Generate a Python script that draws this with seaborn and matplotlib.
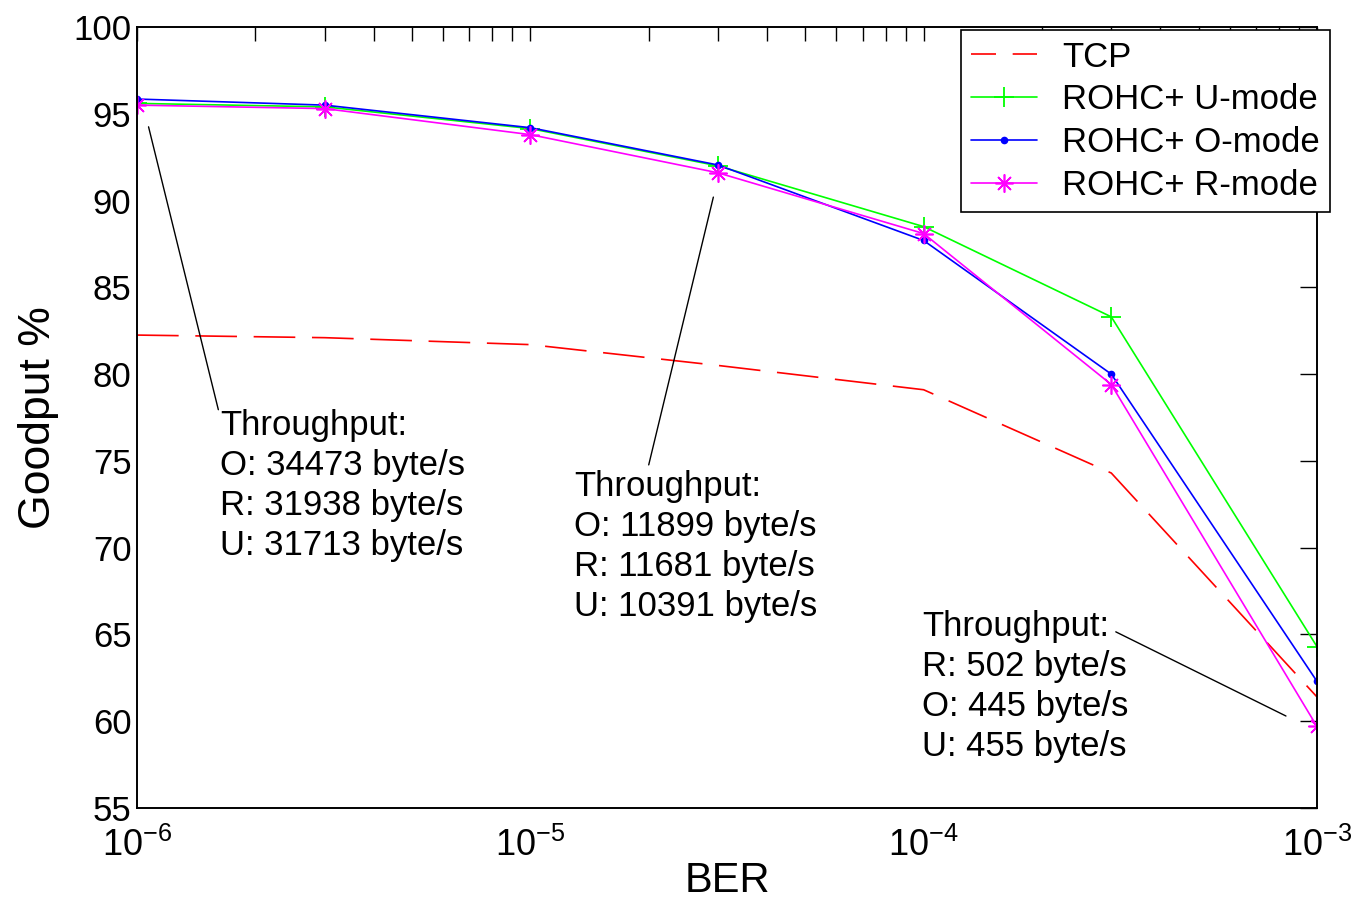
# Goodput vs BER - TCP et ROHC+ (modes U, O, R)
import numpy as np
import pandas as pd
import matplotlib
matplotlib.use("Agg")
import matplotlib.pyplot as plt
from matplotlib.lines import Line2D
import seaborn as sns

# Données
ber = [1e-6, 3e-6, 1e-5, 3e-5, 1e-4, 3e-4, 1e-3]
tcp = [82.25, 82.1, 81.7, 80.5, 79.1, 74.3, 61.4]
u_mode = [95.6, 95.4, 94.15, 92.0, 88.5, 83.3, 64.3]
o_mode = [95.85, 95.5, 94.2, 92.05, 87.7, 80.0, 62.3]
r_mode = [95.5, 95.3, 93.8, 91.6, 88.1, 79.4, 59.7]

# Textes des annotations
notes = [
    "Throughput:\nO: 34473 byte/s\nR: 31938 byte/s\nU: 31713 byte/s",
    "Throughput:\nO: 11899 byte/s\nR: 11681 byte/s\nU: 10391 byte/s",
    "Throughput:\nR: 502 byte/s\nO: 445 byte/s\nU: 455 byte/s",
]
note_pos = [(1.63e-6, 78.0), (1.29e-5, 74.5), (9.9e-5, 66.4)]
note_line_from = [(1.07e-6, 94.25), (2.92e-5, 90.2), (3.08e-4, 65.15)]
note_line_to = [(1.61e-6, 77.95), (2.0e-5, 74.77), (8.34e-4, 60.3)]

sns.set_style("white")
plt.rcParams['font.family'] = ['Liberation Sans', 'DejaVu Sans']
plt.rcParams['mathtext.fontset'] = 'custom'
plt.rcParams['mathtext.rm'] = 'Liberation Sans'
plt.rcParams['mathtext.it'] = 'Liberation Sans'
plt.rcParams['mathtext.bf'] = 'Liberation Sans'
for k in ['text.color', 'axes.labelcolor', 'xtick.color', 'ytick.color']:
    plt.rcParams[k] = 'black'

fig = plt.figure(figsize=(13.51, 9.1), dpi=100)
ax = fig.add_axes([0.1014, 0.1121, 0.8734, 0.8582])

sns.lineplot(x=ber, y=tcp, ax=ax, color="#ff0000", lw=1.2, legend=False)
sns.lineplot(x=ber, y=u_mode, ax=ax, color="#00ff00", lw=1.2, marker="+",
             markersize=14, markeredgewidth=1.3, markeredgecolor="#00ff00",
             legend=False)
sns.lineplot(x=ber, y=o_mode, ax=ax, color="#0000ff", lw=1.2, marker="o",
             markersize=5.5, markeredgewidth=0, markerfacecolor="#0000ff",
             legend=False)
sns.lineplot(x=ber, y=r_mode, ax=ax, color="#ff00ff", lw=1.2, marker=(8, 2, 0),
             markersize=13, markeredgewidth=1.2, markeredgecolor="#ff00ff",
             legend=False)

lines = ax.get_lines()
lines[0].set_dashes((25, 10))
labels = ["TCP", "ROHC+ U-mode", "ROHC+ O-mode", "ROHC+ R-mode"]
# poignée de légende TCP : deux tirets
tcp_handle = Line2D([], [], color="#ff0000", lw=1.2, dashes=(15, 10))
handles = [tcp_handle] + list(lines[1:4])

ax.set_xscale("log")
ax.set_xlim(1e-6, 1e-3)
ax.set_ylim(55, 100)
ax.set_yticks(np.arange(55, 101, 5))

# Annotations
for txt, pos, p0, p1 in zip(notes, note_pos, note_line_from, note_line_to):
    ax.annotate("", xy=p0, xytext=p1,
                arrowprops=dict(arrowstyle="-", color="black", lw=1.0,
                                shrinkA=0, shrinkB=0))
    ax.text(pos[0], pos[1], txt, fontsize=25, va="top", ha="left",
            linespacing=1.27)

ax.set_xlabel("BER", fontsize=30, labelpad=-2)
ax.set_ylabel("Goodput %", fontsize=32, labelpad=10)

ax.tick_params(axis="both", which="both", direction="in", top=True, right=True)
ax.tick_params(axis="y", which="major", length=12, width=1.0, labelsize=25, pad=4)
ax.tick_params(axis="x", which="major", length=10, width=1.0, labelsize=26, pad=14)
ax.tick_params(axis="x", which="minor", length=10, width=1.0)
for s in ax.spines.values():
    s.set_color("black")
    s.set_linewidth(1.4)

leg = ax.legend(handles, labels, loc="upper right", bbox_to_anchor=(1.011, 0.996),
                fontsize=25, frameon=True, fancybox=False, edgecolor="black",
                handlelength=1.9, handletextpad=0.7, labelspacing=0.28,
                borderpad=0.3, borderaxespad=0)
leg.get_frame().set_linewidth(1.2)
leg.get_frame().set_alpha(1)

fig.savefig("out.png", dpi=100)
